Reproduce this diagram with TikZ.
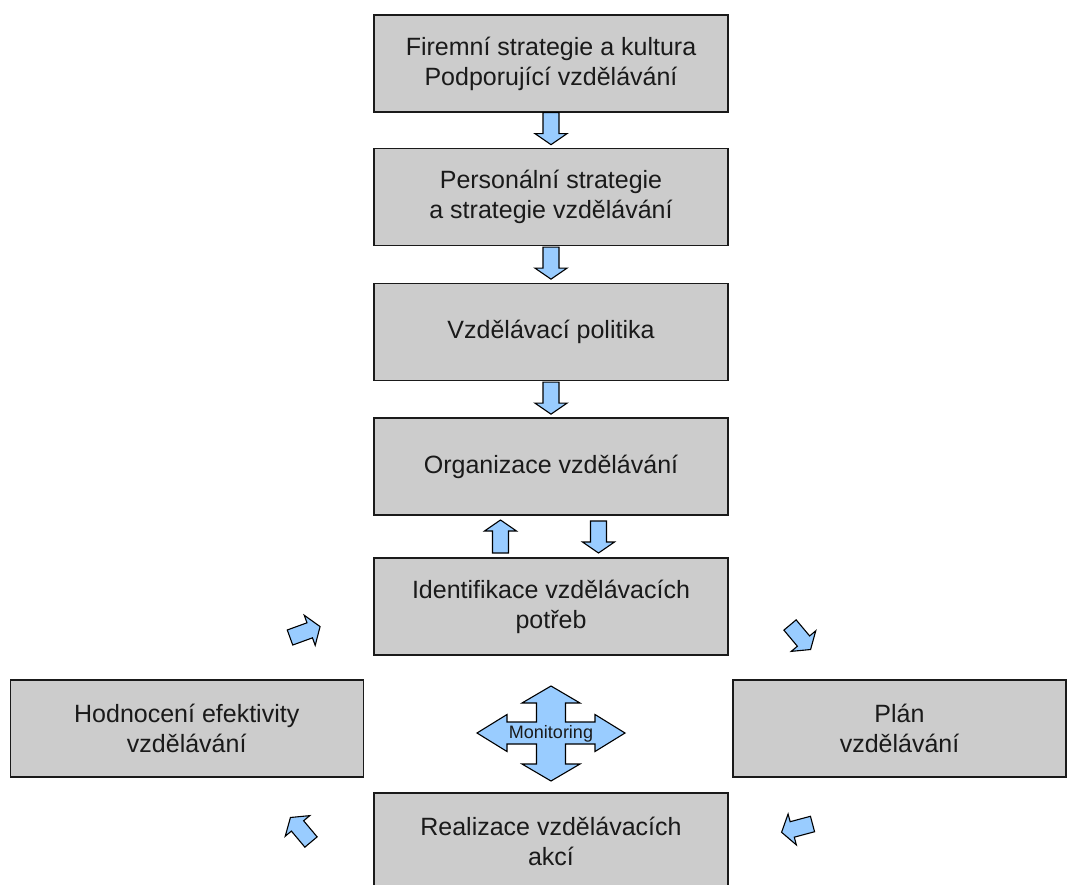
\documentclass[tikz,border=0pt]{standalone}
\usepackage{fontspec}
\setmainfont{Liberation Sans}
\definecolor{boxgray}{HTML}{CCCCCC}
\definecolor{arrowblue}{HTML}{99CCFF}
\definecolor{ink}{HTML}{1A1A1A}
\tikzset{
  box/.style={draw=ink, line width=1.3pt, fill=boxgray, minimum width=354,
    minimum height=97, inner sep=0pt, align=center, text=ink,
    font=\fontsize{25}{30}\selectfont},
  arrowshape/.style={draw=black, line width=1.1pt, fill=arrowblue, line join=miter},
  % block arrow along local +x, length #1, shaft 16, head 32 wide and 11 long
  barrow/.pic={
    \path[arrowshape] (0,-8) -- (#1-11,-8) -- (#1-11,-16) -- (#1,0)
      -- (#1-11,16) -- (#1-11,8) -- (0,8) -- cycle;
  }
}
\begin{document}
\begin{tikzpicture}[x=1pt,y=-1pt]
\clip (0,0) rectangle (1075,885);
\fill[white] (0,0) rectangle (1075,885);

% main chain
\node[box] (b1) at (551,63.5) {Firemní strategie a kultura\\Podporující vzdělávání};
\node[box] (b2) at (551,197) {Personální strategie\\a strategie vzdělávání};
\node[box] (b3) at (551,332) {Vzdělávací politika};
\node[box] (b4) at (551,466.5) {Organizace vzdělávání};
\node[box] (b5) at (551,606.5) {Identifikace vzdělávacích\\potřeb};

% cycle boxes
\node[box, minimum width=353] (eval) at (186.75,728.5) {Hodnocení efektivity\\vzdělávání};
\node[box, minimum width=333] (plan) at (899.5,728.5) {Plán\\vzdělávání};
\node[box] (real) at (551,841.5) {Realizace vzdělávacích\\akcí};

% arrows between the chain boxes
\pic[rotate=-90] at (b1.south) {barrow=32};
\pic[rotate=-90] at ([yshift=-1]b2.south) {barrow=32};
\pic[rotate=-90] at ([yshift=-1]b3.south) {barrow=32};

% two-way link between organisation and needs
\coordinate (upfoot) at (500.5,553);
\coordinate (downtop) at (598.5,521);
\pic[rotate=90] at (upfoot) {barrow=33};
\pic[rotate=-90] at (downtop) {barrow=32};

% arrows of the cycle
\coordinate (c1) at (790,625);
\coordinate (c2) at (812.5,824);
\coordinate (c3) at (311,842);
\coordinate (c4) at (290,637.5);
\pic[rotate=-50] at (c1) {barrow=32};
\pic[rotate=195] at (c2) {barrow=32};
\pic[rotate=130] at (c3) {barrow=32};
\pic[rotate=20] at (c4) {barrow=32};

% monitoring cross
\path[arrowshape, shift={(551,733)}]
  (0,-47) -- (29,-30) -- (14.5,-30) -- (14.5,-11) -- (44,-11) -- (44,-18.5)
  -- (74,0) -- (44,18.5) -- (44,11) -- (14.5,11) -- (14.5,31) -- (29,31)
  -- (0,48) -- (-29,31) -- (-14.5,31) -- (-14.5,11) -- (-44,11) -- (-44,18.5)
  -- (-74,0) -- (-44,-18.5) -- (-44,-11) -- (-14.5,-11) -- (-14.5,-30)
  -- (-29,-30) -- cycle;
\node[text=ink, font=\fontsize{18}{21}\selectfont, inner sep=0pt] (mon) at (551,734) {Monitoring};
\end{tikzpicture}
\end{document}
